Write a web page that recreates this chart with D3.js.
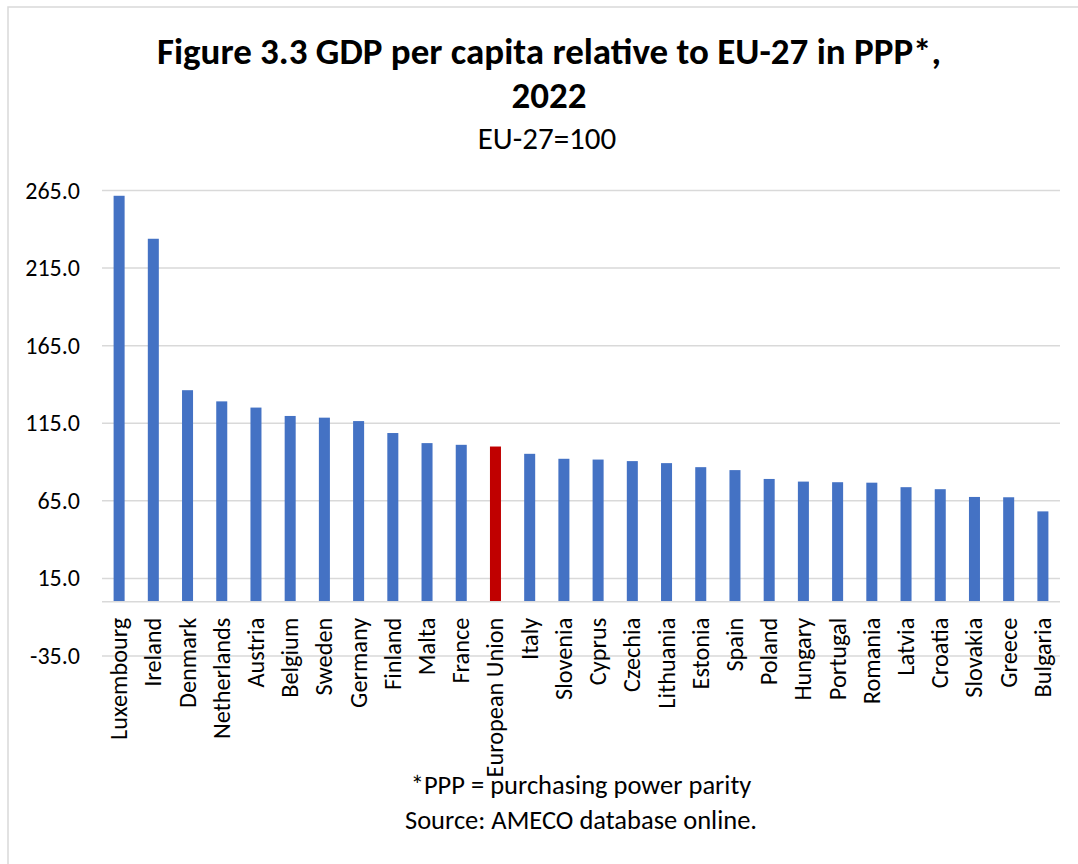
<!DOCTYPE html>
<html>
<head>
<meta charset="utf-8">
<script src="https://cdn.jsdelivr.net/npm/d3@7"></script>
<style>
  html, body { margin: 0; padding: 0; background: #fff; }
  svg { display: block; }
  text { font-family: Carlito, Calibri, Lato, "Noto Sans", sans-serif; fill: #000; }
</style>
</head>
<body>
<svg id="chart" width="1078" height="864"></svg>
<script>
const countries = ["Luxembourg","Ireland","Denmark","Netherlands","Austria","Belgium","Sweden","Germany","Finland","Malta","France","European Union","Italy","Slovenia","Cyprus","Czechia","Lithuania","Estonia","Spain","Poland","Hungary","Portugal","Romania","Latvia","Croatia","Slovakia","Greece","Bulgaria"];
const values = [261.6,233.9,136.3,129.1,125.1,119.7,118.6,116.4,108.7,102.2,101.1,100.0,95.3,92.1,91.6,90.6,89.3,86.7,84.8,79.1,77.4,77.0,76.7,73.8,72.5,67.5,67.3,58.2];
const highlight = ["European Union"];
const yTicks = [-35, 15, 65, 115, 165, 215, 265];
const titleLines = ["Figure 3.3 GDP per capita relative to EU-27 in PPP*,", "2022"];
const subtitle = "EU-27=100";
const notes = ["*PPP = purchasing power parity", "Source: AMECO database online."];

const svg = d3.select("#chart");
const fmt = d3.formatLocale({decimal: ".", thousands: ",", grouping: [3], currency: ["", ""], minus: "-"}).format(".1f");

// outer chart border
svg.append("rect").attr("x", 8).attr("y", 7).attr("width", 1090).attr("height", 880)
  .attr("fill", "none").attr("stroke", "#d9d9d9").attr("stroke-width", 1.5);

const x = d3.scaleBand().domain(countries).range([102, 1060]).paddingInner(0.678).paddingOuter(0.339);
const y = d3.scaleLinear().domain([-35, 265]).range([656, 190.5]);

// gridlines
svg.append("g").selectAll("line").data(yTicks).join("line")
  .attr("x1", 102).attr("x2", 1060)
  .attr("y1", d => y(d)).attr("y2", d => y(d))
  .attr("stroke", "#d9d9d9").attr("stroke-width", 1.5);

// y tick labels
svg.append("g").selectAll("text").data(yTicks).join("text")
  .attr("x", 80).attr("y", d => y(d) + 8)
  .attr("text-anchor", "end")
  .style("font-size", "24px")
  .text(d => fmt(d));

// bars
svg.append("g").selectAll("rect").data(countries).join("rect")
  .attr("x", d => x(d))
  .attr("width", x.bandwidth())
  .attr("y", (d, i) => y(values[i]))
  .attr("height", (d, i) => y(0) - y(values[i]))
  .attr("fill", d => highlight.includes(d) ? "#C00000" : "#4472C4");

// zero baseline
svg.append("line").attr("x1", 102).attr("x2", 1060)
  .attr("y1", y(0)).attr("y2", y(0))
  .attr("stroke", "#d9d9d9").attr("stroke-width", 1.5);

// category labels
svg.append("g").selectAll("text").data(countries).join("text")
  .attr("transform", d => `translate(${x(d) + x.bandwidth()/2 + 8},${y(0) + 16}) rotate(-90)`)
  .attr("text-anchor", "end")
  .style("font-size", "24.3px")
  .text(d => d);

// titles
svg.append("text").attr("x", 549).attr("y", 64).attr("text-anchor", "middle")
  .style("font-size", "37px").style("font-weight", "bold").text(titleLines[0]);
svg.append("text").attr("x", 549).attr("y", 108).attr("text-anchor", "middle")
  .style("font-size", "37px").style("font-weight", "bold").text(titleLines[1]);
svg.append("text").attr("x", 547).attr("y", 149).attr("text-anchor", "middle")
  .style("font-size", "31px").text(subtitle);

// notes
svg.append("text").attr("x", 581).attr("y", 794).attr("text-anchor", "middle")
  .style("font-size", "26.5px").text(notes[0]);
svg.append("text").attr("x", 581).attr("y", 829).attr("text-anchor", "middle")
  .style("font-size", "26.5px").text(notes[1]);
</script>
</body>
</html>
